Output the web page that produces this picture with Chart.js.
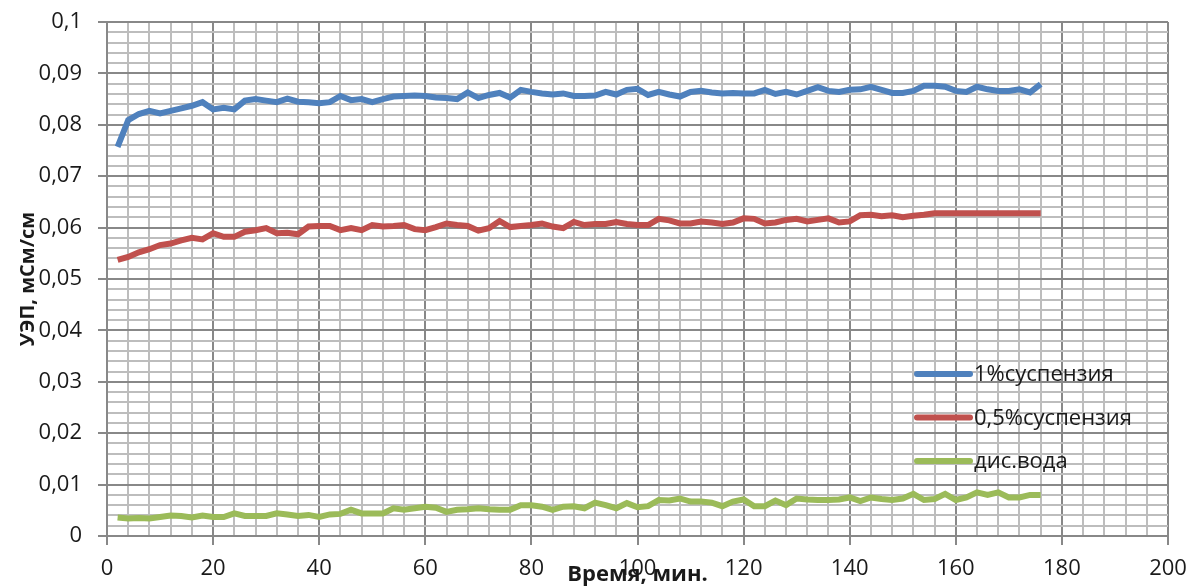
<!DOCTYPE html>
<html lang="ru">
<head>
    <meta charset="UTF-8">
    <title>УЭП</title>
    <style>
        body { margin: 0; background: #ffffff; overflow: hidden; }
        #wrap { width: 1189px; height: 588px; }
        canvas { display: block; }
    </style>
</head>
<body>
    <div id="wrap"><canvas id="chart" width="1189" height="588"></canvas></div>
    <script src="https://cdn.jsdelivr.net/npm/chart.js"></script>
    <script>
// time, min
const minutes = [2, 4, 6, 8, 10, 12, 14, 16, 18, 20, 22, 24, 26, 28, 30, 32, 34, 36, 38, 40,
    42, 44, 46, 48, 50, 52, 54, 56, 58, 60, 62, 64, 66, 68, 70, 72, 74, 76, 78, 80,
    82, 84, 86, 88, 90, 92, 94, 96, 98, 100, 102, 104, 106, 108, 110, 112, 114, 116, 118, 120,
    122, 124, 126, 128, 130, 132, 134, 136, 138, 140, 142, 144, 146, 148, 150, 152, 154, 156, 158, 160,
    162, 164, 166, 168, 170, 172, 174, 176];

const susp1 = [0.0757, 0.0809, 0.0821, 0.0827, 0.0822, 0.0827, 0.0832, 0.0837, 0.0844, 0.0830,
    0.0833, 0.0830, 0.0847, 0.0850, 0.0847, 0.0844, 0.0851, 0.0845, 0.0844, 0.0842,
    0.0844, 0.0856, 0.0848, 0.0850, 0.0844, 0.0850, 0.0855, 0.0856, 0.0857, 0.0856,
    0.0853, 0.0852, 0.0850, 0.0863, 0.0852, 0.0858, 0.0862, 0.0853, 0.0868, 0.0864,
    0.0861, 0.0859, 0.0861, 0.0856, 0.0856, 0.0857, 0.0864, 0.0859, 0.0868, 0.0870,
    0.0858, 0.0864, 0.0859, 0.0855, 0.0864, 0.0866, 0.0863, 0.0861, 0.0862, 0.0861,
    0.0861, 0.0868, 0.0860, 0.0864, 0.0859, 0.0866, 0.0873, 0.0866, 0.0864, 0.0868,
    0.0869, 0.0874, 0.0868, 0.0862, 0.0862, 0.0866, 0.0876, 0.0876, 0.0874, 0.0866,
    0.0864, 0.0874, 0.0869, 0.0866, 0.0866, 0.0869, 0.0863, 0.0879];

const susp05 = [0.0537, 0.0543, 0.0552, 0.0558, 0.0566, 0.0569, 0.0575, 0.0580, 0.0577, 0.0589,
    0.0582, 0.0582, 0.0592, 0.0595, 0.0599, 0.0589, 0.0590, 0.0587, 0.0602, 0.0603,
    0.0603, 0.0595, 0.0599, 0.0595, 0.0605, 0.0602, 0.0603, 0.0605, 0.0597, 0.0595,
    0.0601, 0.0608, 0.0605, 0.0603, 0.0594, 0.0599, 0.0613, 0.0601, 0.0603, 0.0605,
    0.0608, 0.0602, 0.0599, 0.0611, 0.0605, 0.0607, 0.0607, 0.0611, 0.0607, 0.0605,
    0.0605, 0.0617, 0.0614, 0.0608, 0.0608, 0.0612, 0.0610, 0.0607, 0.0610, 0.0618,
    0.0617, 0.0608, 0.0610, 0.0615, 0.0617, 0.0612, 0.0615, 0.0618, 0.0610, 0.0612,
    0.0624, 0.0625, 0.0622, 0.0624, 0.0620, 0.0623, 0.0625, 0.0628, 0.0628, 0.0628,
    0.0628, 0.0628, 0.0628, 0.0628, 0.0628, 0.0628, 0.0628, 0.0628];

const water = [0.0036, 0.0034, 0.0035, 0.0034, 0.0037, 0.0040, 0.0039, 0.0036, 0.0040, 0.0037,
    0.0037, 0.0044, 0.0039, 0.0039, 0.0039, 0.0044, 0.0042, 0.0039, 0.0041, 0.0037,
    0.0042, 0.0043, 0.0051, 0.0044, 0.0044, 0.0044, 0.0054, 0.0051, 0.0054, 0.0057,
    0.0055, 0.0047, 0.0051, 0.0052, 0.0054, 0.0052, 0.0051, 0.0051, 0.0060, 0.0060,
    0.0057, 0.0051, 0.0057, 0.0058, 0.0054, 0.0065, 0.0060, 0.0054, 0.0064, 0.0056,
    0.0058, 0.0070, 0.0069, 0.0073, 0.0067, 0.0067, 0.0065, 0.0058, 0.0067, 0.0071,
    0.0058, 0.0058, 0.0069, 0.0060, 0.0073, 0.0071, 0.0070, 0.0070, 0.0071, 0.0075,
    0.0068, 0.0075, 0.0072, 0.0070, 0.0073, 0.0082, 0.0070, 0.0072, 0.0082, 0.0070,
    0.0075, 0.0085, 0.0080, 0.0085, 0.0075, 0.0075, 0.0080, 0.0080];

const seriesNames = ['1%суспензия', '0,5%суспензия', 'дис.вода'];
const seriesColors = ['#4f81bd', '#c0504d', '#9bbb59'];

const majorGrid = '#888888';
const minorGrid = '#bdbdbd';
const baseFont = "'Open Sans', sans-serif";

function toPoints(values) {
    return minutes.map((m, i) => ({ x: m, y: values[i] }));
}

function isMajorY(v) {
    return Math.abs(v * 100 - Math.round(v * 100)) < 1e-6;
}

// legend drawn inside the plot area, lower right
const insideLegend = {
    id: 'insideLegend',
    afterDatasetsDraw(chart) {
        const { ctx, chartArea } = chart;
        const x0 = chartArea.right - 251;
        ctx.save();
        ctx.font = '22px ' + baseFont;
        ctx.textBaseline = 'middle';
        ctx.fillStyle = '#1a1a1a';
        chart.data.datasets.forEach((ds, i) => {
            const y = chartArea.top + 352 + i * 43.5;
            ctx.strokeStyle = ds.borderColor;
            ctx.lineWidth = 6;
            ctx.lineCap = 'round';
            ctx.beginPath();
            ctx.moveTo(x0, y);
            ctx.lineTo(x0 + 53, y);
            ctx.stroke();
            ctx.fillText(ds.label, x0 + 57, y + 1);
        });
        ctx.restore();
    }
};

const datasets = [susp1, susp05, water].map((vals, i) => ({
    label: seriesNames[i],
    data: toPoints(vals),
    borderColor: seriesColors[i],
    backgroundColor: seriesColors[i],
    borderWidth: 6,
    pointRadius: 0,
    tension: 0,
    fill: false
}));

new Chart(document.getElementById('chart'), {
    type: 'line',
    data: { datasets: datasets },
    plugins: [insideLegend],
    options: {
        responsive: false,
        animation: false,
        layout: { padding: { left: 0, right: 21, top: 22, bottom: 0 } },
        plugins: {
            legend: { display: false },
            tooltip: { enabled: false }
        },
        scales: {
            x: {
                type: 'linear',
                min: 0,
                max: 200,
                afterFit: scale => {
                    scale.height = 52;
                    scale.paddingLeft = 0;
                    scale.paddingRight = 0;
                },
                ticks: {
                    stepSize: 4,
                    autoSkip: false,
                    maxRotation: 0,
                    padding: 11,
                    color: '#1a1a1a',
                    font: { family: baseFont, size: 22 },
                    callback: v => (v % 20 === 0 ? String(v) : '')
                },
                grid: {
                    color: c => (c.tick && c.tick.value % 20 === 0 ? majorGrid : minorGrid),
                    lineWidth: 2,
                    tickColor: c => (c.tick && c.tick.value % 20 === 0 ? majorGrid : 'rgba(0,0,0,0)'),
                    tickLength: 9
                },
                border: { color: majorGrid, width: 2 },
                title: {
                    display: true,
                    text: 'Время, мин.',
                    color: '#1a1a1a',
                    font: { family: baseFont, size: 22, weight: 'bold' },
                    padding: { top: 0, bottom: 0 }
                }
            },
            y: {
                min: 0,
                max: 0.1,
                afterFit: scale => {
                    scale.width = 107;
                    scale.paddingTop = 0;
                    scale.paddingBottom = 0;
                },
                ticks: {
                    stepSize: 0.002,
                    autoSkip: false,
                    padding: 16,
                    color: '#1a1a1a',
                    font: { family: baseFont, size: 22 },
                    callback: v => (isMajorY(v) ? String(Math.round(v * 100) / 100).replace('.', ',') : '')
                },
                grid: {
                    color: c => (c.tick && isMajorY(c.tick.value) ? majorGrid : minorGrid),
                    lineWidth: 2,
                    tickColor: c => (c.tick && isMajorY(c.tick.value) ? majorGrid : 'rgba(0,0,0,0)'),
                    tickLength: 9
                },
                border: { color: majorGrid, width: 2 },
                title: {
                    display: true,
                    text: 'УЭП, мСм/см',
                    color: '#1a1a1a',
                    font: { family: baseFont, size: 20, weight: 'bold' },
                    padding: { top: 16, bottom: 0 }
                }
            }
        }
    }
});
    </script>
</body>
</html>
